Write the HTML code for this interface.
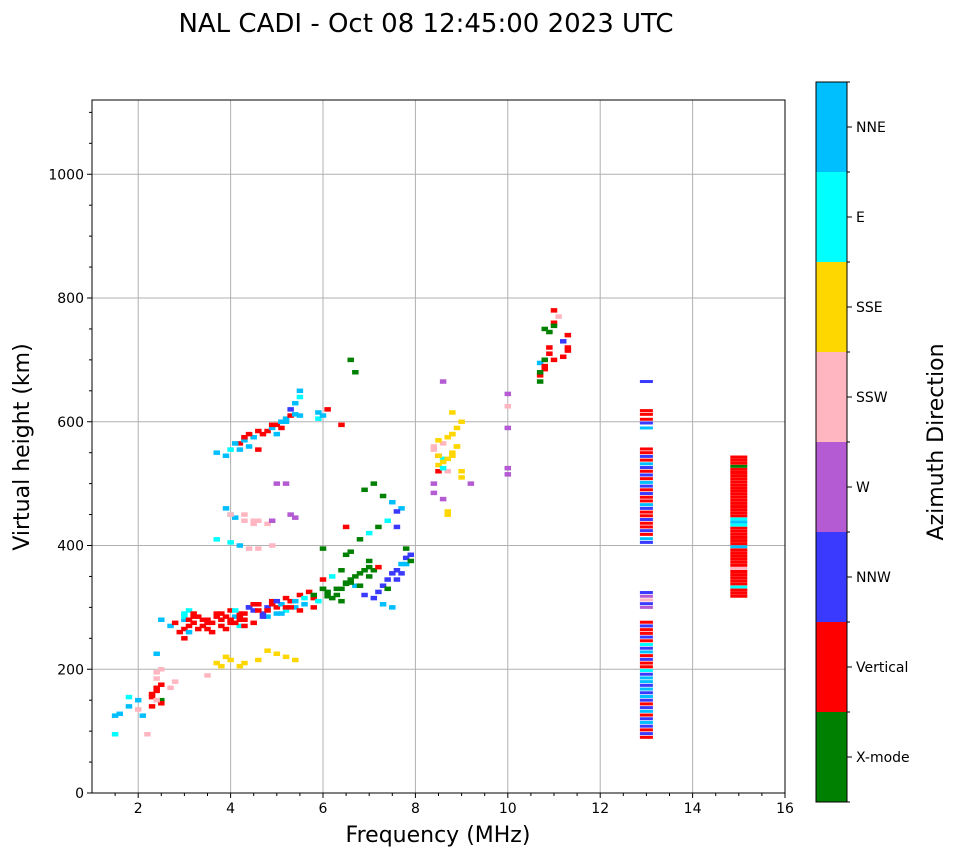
<!DOCTYPE html>
<html><head><meta charset="utf-8"><style>
body{margin:0;background:#fff;width:958px;height:857px;overflow:hidden}
svg text{font-family:"DejaVu Sans","Liberation Sans",sans-serif;fill:#000}
</style></head><body>
<svg id="chart" width="958" height="857">
<text x="426" y="32" font-size="26" text-anchor="middle">NAL CADI - Oct 08 12:45:00 2023 UTC</text>
<g id="grid"></g><g id="marks"></g><g id="axes"></g><g id="cbar"></g>
</svg>
<script>
const dirNames=["X-mode","Vertical","NNW","W","SSW","SSE","E","NNE"];
const dirColors=["#008000","#ff0000","#3a3aff","#b45ad2","#ffb6c1","#ffd700","#00ffff","#00bfff"];
const xTicks=[2,4,6,8,10,12,14,16];
const yTicks=[0,200,400,600,800,1000];
const freqs=[1.5,1.5,1.6,1.8,1.8,2.0,2.0,2.1,2.3,2.3,2.4,2.4,2.4,2.5,2.5,2.4,2.5,2.7,2.8,2.2,
2.5,2.7,2.8,2.9,3.0,3.0,3.0,3.1,3.1,3.2,3.2,3.3,3.4,3.5,3.5,3.6,3.7,3.8,3.8,3.9,4.0,4.0,4.1,4.2,4.2,4.3,4.4,4.5,4.5,4.6,4.7,4.8,4.8,4.9,5.0,5.0,5.1,5.2,5.2,5.3,5.4,5.5,5.6,5.7,5.8,5.9,
6.0,6.0,6.1,6.2,6.3,6.4,6.5,6.6,6.7,6.8,6.9,7.0,7.1,7.2,7.3,7.4,7.5,7.6,7.7,7.8,7.9,7.8,7.5,7.3,7.1,6.9,6.7,6.5,6.2,6.0,6.6,7.0,7.2,7.6,
3.7,3.9,4.0,4.2,4.3,4.4,4.5,4.6,4.7,4.8,4.9,5.0,5.1,5.2,5.3,5.3,5.4,5.5,5.5,5.9,5.9,6.0,6.1,6.6,6.7,6.4,6.5,
3.9,4.0,4.1,4.3,4.5,4.6,4.8,4.9,5.0,5.2,5.3,5.4,3.7,4.0,4.2,4.4,4.6,4.9,
3.7,3.8,4.0,4.2,4.3,4.6,4.8,5.0,5.2,5.4,3.5,3.9,
6.9,7.1,7.3,7.5,7.7,7.6,7.4,7.2,7.0,6.8,6.5,6.4,
8.4,8.5,8.6,8.7,8.8,8.9,9.0,8.5,8.6,8.7,8.8,8.9,8.4,8.6,8.7,9.0,9.2,8.5,8.7,8.6,8.8,
10.0,10.0,10.0,10.0,10.0,
10.7,10.7,10.8,10.8,10.9,10.9,11.0,11.0,11.1,11.2,11.3,11.3,10.7,10.8,11.0,11.2,
2.3,2.4,2.4,2.5,3.0,3.0,3.1,3.1,3.2,3.3,3.4,3.5,3.6,3.7,3.8,3.9,4.0,4.1,4.1,4.2,4.2,4.3,4.3,4.4,4.5,4.6,4.7,4.8,4.9,5.0,5.1,5.2,5.3,5.4,5.5,5.6,5.8,6.1,6.3,6.4,6.6,6.8,7.0,7.4,7.6,7.7,7.8,7.9,
4.1,4.2,4.3,4.4,4.6,4.9,5.1,5.2,5.4,5.0,4.0,4.3,4.5,5.5,5.8,6.0,
8.4,8.5,8.5,8.6,8.6,8.7,8.8,8.8,8.9,9.0,8.4,8.7,10.8,10.8,10.9,10.7,11.3,11.0];
const heights=[95,125,128,140,155,150,135,125,140,160,170,185,195,200,150,225,145,170,180,95,
280,270,275,260,250,280,290,270,295,275,290,285,270,265,280,275,285,270,290,285,275,295,285,290,270,280,300,295,275,305,290,300,285,310,300,290,305,295,315,310,300,320,305,325,315,310,
345,330,325,315,320,330,338,345,350,355,360,365,360,325,335,345,355,360,370,380,385,395,300,305,315,320,335,340,350,395,390,375,365,430,
550,545,555,565,570,560,575,555,580,585,590,595,600,605,610,620,630,640,650,615,605,610,620,700,680,595,430,
460,450,445,440,435,440,435,440,500,500,450,445,410,405,400,395,395,400,
210,205,215,205,210,215,230,225,220,215,190,220,
490,500,480,470,460,455,440,430,420,410,385,360,
555,545,565,575,580,590,600,530,540,520,550,560,485,475,455,510,500,520,450,665,615,
645,625,590,525,515,
665,675,685,700,720,745,760,780,770,705,720,740,695,750,755,730,
155,150,165,175,265,285,260,280,285,265,280,275,260,290,280,265,280,275,295,280,285,270,290,300,305,295,285,295,305,310,290,300,300,310,295,315,300,318,330,310,340,335,350,330,345,355,370,375,
565,555,575,580,585,595,590,600,612,580,450,450,440,610,320,330,
560,545,570,535,525,540,545,580,560,520,500,450,700,690,710,680,715,700];
const dirs=[6,7,7,7,6,7,4,7,1,1,1,4,4,4,0,7,1,4,4,4,
7,7,1,1,1,7,6,1,6,1,1,1,1,1,1,1,1,1,1,1,1,1,7,1,6,1,2,2,1,1,2,2,7,1,1,7,7,6,1,1,7,1,7,1,1,6,
1,0,0,0,0,0,0,0,0,0,0,0,0,2,2,2,2,2,7,2,2,0,7,7,2,2,7,0,6,0,0,0,1,2,
7,7,6,1,7,7,7,1,1,1,7,1,7,7,1,2,7,6,7,7,6,7,1,0,0,1,1,
7,6,7,4,4,4,4,3,3,3,3,3,6,6,7,4,4,4,
5,5,5,5,5,5,5,5,5,5,4,5,
0,0,0,7,7,2,6,0,6,0,0,0,
4,1,4,5,5,5,5,5,6,4,5,5,3,3,5,5,3,1,5,3,5,
3,4,3,3,3,
0,1,1,0,1,0,1,1,4,1,1,1,7,0,0,2,
1,4,1,1,1,6,7,1,1,1,1,1,1,1,1,1,1,1,6,1,1,1,1,2,1,1,2,1,1,2,7,1,1,7,1,6,1,0,0,0,0,0,0,0,2,2,7,0,
7,7,1,1,1,1,1,7,7,7,4,4,4,7,0,0,
4,5,5,5,6,5,5,5,5,5,3,5,0,1,1,0,1,1];
const col13Heights=[90,96,102,108,114,120,126,132,138,144,150,156,162,168,174,180,186,192,198,204,210,216,222,228,234,240,246,252,258,264,270,276,300,306,312,318,324,
405,411,418,424,430,436,442,448,454,460,466,472,478,484,490,496,502,508,514,520,526,532,538,544,550,556,590,598,604,612,618,665];
const col13Dirs=[1,2,1,2,7,2,1,7,2,1,2,7,2,7,2,7,7,2,6,1,1,2,1,7,2,6,1,2,1,1,2,1,3,2,4,3,2,
2,7,1,2,1,1,2,1,1,2,7,1,1,2,1,2,7,1,2,1,2,7,1,2,1,1,7,2,1,1,1,2];
const col15Heights=[318,323,328,333,338,343,348,353,358,363,368,373,378,383,388,393,398,403,408,413,418,423,428,433,438,443,448,453,458,463,468,473,478,483,488,493,498,503,508,513,518,523,528,533,538,543];
const col15Dirs=[1,1,1,6,1,1,1,1,1,4,1,1,1,1,1,1,7,1,1,1,1,1,1,6,7,6,1,1,1,1,1,1,1,1,1,1,1,1,1,1,1,1,0,1,1,1];
const L=92,R=785,T=100,B=793;
const xs=f=>L+(f-1)/(15)*(R-L);
const ys=h=>B-h/1120*(B-T);
const NS="http://www.w3.org/2000/svg";
function mk(tag,attrs,parent){const e=document.createElementNS(NS,tag);for(const k in attrs)e.setAttribute(k,attrs[k]);parent.appendChild(e);return e;}
const grid=document.getElementById('grid'),marks=document.getElementById('marks'),axes=document.getElementById('axes'),cb=document.getElementById('cbar');
xTicks.forEach(t=>{if(t<16){const l=mk('line',{x1:xs(t),x2:xs(t),y1:T,y2:B,stroke:'#b0b0b0','stroke-width':1},grid);

}});
yTicks.forEach(t=>{if(t>0){const l=mk('line',{x1:L,x2:R,y1:ys(t),y2:ys(t),stroke:'#b0b0b0','stroke-width':1},grid);

}});
function addMark(f,h,d,w,hh){
 const r=mk('rect',{x:xs(f)-w/2,y:ys(h)-hh/2,width:w,height:hh,fill:dirColors[d]},marks);
 
 
}
for(let i=0;i<freqs.length;i++)addMark(freqs[i],heights[i],dirs[i],6.5,4.5);
for(let i=0;i<col13Heights.length;i++)addMark(13,col13Heights[i],col13Dirs[i],13,3);
for(let i=0;i<col15Heights.length;i++)addMark(15,col15Heights[i],col15Dirs[i],17,3);
const frame=mk('rect',{x:L,y:T,width:R-L,height:B-T,fill:'none',stroke:'#000','stroke-width':1},axes);


xTicks.forEach(t=>{mk('line',{x1:xs(t),x2:xs(t),y1:B,y2:B+5,stroke:'#000'},axes);
const tx=mk('text',{x:xs(t),y:B+20,'font-size':14,'text-anchor':'middle'},axes);tx.textContent=t;

});
for(let f=1.5;f<16;f+=0.5){if(f%2!==0)mk('line',{x1:xs(f),x2:xs(f),y1:B,y2:B+3,stroke:'#000'},axes);}
yTicks.forEach(t=>{mk('line',{x1:L-5,x2:L,y1:ys(t),y2:ys(t),stroke:'#000'},axes);
const tx=mk('text',{x:L-8,y:ys(t)+5,'font-size':14,'text-anchor':'end'},axes);tx.textContent=t;

});
for(let h=50;h<1120;h+=50){if(h%200!==0)mk('line',{x1:L-3,x2:L,y1:ys(h),y2:ys(h),stroke:'#000'},axes);}
const xt=mk('text',{x:438,y:842,'font-size':22,'text-anchor':'middle'},axes);xt.textContent='Frequency (MHz)';


const yt=mk('text',{x:0,y:0,'font-size':22,'text-anchor':'middle',transform:'translate(29,447) rotate(-90)'},axes);yt.textContent='Virtual height (km)';


const cT=82,cB=802,cL=816,cW=31,seg=(cB-cT)/8;
dirNames.forEach((n,i)=>{const y0=cB-(i+1)*seg;
 const r=mk('rect',{x:cL,y:y0,width:cW,height:seg,fill:dirColors[i]},cb);
 
 
 mk('line',{x1:cL+cW,x2:cL+cW+5,y1:y0+seg/2,y2:y0+seg/2,stroke:'#000'},cb);
 const tx=mk('text',{x:cL+cW+9,y:y0+seg/2+5,'font-size':14},cb);tx.textContent=n;
 
 
});
for(let i=0;i<=8;i++)mk('line',{x1:cL+cW,x2:cL+cW+3,y1:cT+i*seg,y2:cT+i*seg,stroke:'#000'},cb);
const cbf=mk('rect',{x:cL,y:cT,width:cW,height:cB-cT,fill:'none',stroke:'#000'},cb);


const ct=mk('text',{x:0,y:0,'font-size':22,'text-anchor':'middle',transform:'translate(943,442) rotate(-90)'},cb);ct.textContent='Azimuth Direction';


</script>
</body></html>
